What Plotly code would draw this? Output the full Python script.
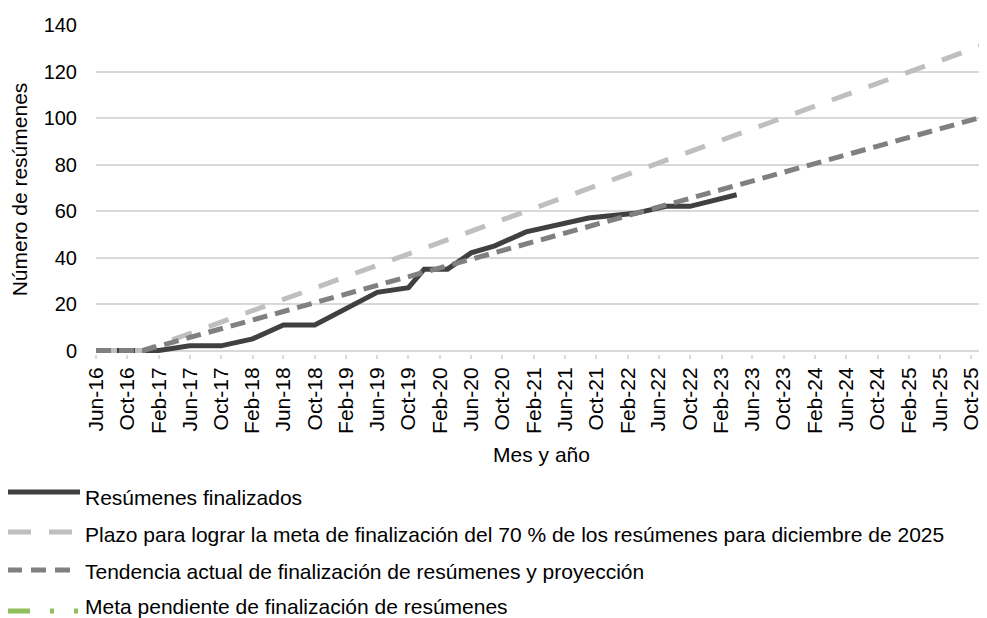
import pandas as pd
import plotly.graph_objects as go

# ---------------- data ----------------
TICK_LABELS = ["Jun-16", "Oct-16", "Feb-17", "Jun-17", "Oct-17", "Feb-18", "Jun-18",
               "Oct-18", "Feb-19", "Jun-19", "Oct-19", "Feb-20", "Jun-20", "Oct-20",
               "Feb-21", "Jun-21", "Oct-21", "Feb-22", "Jun-22", "Oct-22", "Feb-23",
               "Jun-23", "Oct-23", "Feb-24", "Jun-24", "Oct-24", "Feb-25", "Jun-25",
               "Oct-25"]
AXIS_START = "Jun-16"
AXIS_END = "Dec-25"

# Resúmenes finalizados (readings at the line's turning points)
DONE_MONTHS = ["Jun-16", "Feb-17", "Jun-17", "Oct-17", "Feb-18", "Jun-18", "Oct-18",
               "Feb-19", "Jun-19", "Oct-19", "Dec-19", "Mar-20", "Jun-20", "Sep-20",
               "Jan-21", "Sep-21", "Mar-22", "Jul-22", "Oct-22", "Apr-23"]
DONE_VALUES = [0, 0, 2, 2, 5, 11, 11, 18, 25, 27, 35, 35, 42, 45, 51, 57, 59, 62, 62, 67]

# Plazo para lograr la meta del 70 %
GOAL_MONTHS = ["Jun-16", "Dec-16", "Dec-25"]
GOAL_VALUES = [0, 0, 132]

# Tendencia actual y proyección
TREND_MONTHS = ["Jun-16", "Dec-16", "Dec-25"]
TREND_VALUES = [0, 0, 101]

SERIES_NAMES = [
    "Resúmenes finalizados",
    "Plazo para lograr la meta de finalización del 70 % de los resúmenes para diciembre de 2025",
    "Tendencia actual de finalización de resúmenes y proyección",
    "Meta pendiente de finalización de resúmenes",
]
Y_TICKS = [0, 20, 40, 60, 80, 100, 120, 140]

# ---------------- style ----------------
FONT = "Arial, 'Liberation Sans', sans-serif"
C_DONE = "#404040"
C_GOAL = "#BFBFBF"
C_TREND = "#808080"
C_PEND = "#8FC05A"
GRID = "#D9D9D9"
LW = 5

# the page body adds an 8px offset, so the figure is sized/placed accordingly
OFF = 8
W, H = 987 - OFF, 618 - OFF
L, R, T, B = 96 - OFF, 0, 25 - OFF, 618 - 354


def to_date(labels):
    return pd.to_datetime(labels, format="%b-%y")


fig = go.Figure()
fig.add_trace(go.Scatter(x=to_date(DONE_MONTHS), y=DONE_VALUES, mode="lines",
                         name=SERIES_NAMES[0], line=dict(color=C_DONE, width=LW),
                         showlegend=False))
fig.add_trace(go.Scatter(x=to_date(GOAL_MONTHS), y=GOAL_VALUES, mode="lines",
                         name=SERIES_NAMES[1],
                         line=dict(color=C_GOAL, width=LW, dash="21px,18px"),
                         showlegend=False))
fig.add_trace(go.Scatter(x=to_date(TREND_MONTHS), y=TREND_VALUES, mode="lines",
                         name=SERIES_NAMES[2],
                         line=dict(color=C_TREND, width=LW, dash="15px,8px"),
                         showlegend=False))

# ---------------- manual legend ----------------
pw, ph = W - L - R, H - T - B


def px2x(px):
    return (px - OFF - L) / pw


def py2y(py):
    return (H - B - (py - OFF)) / ph


legend_rows = [
    (SERIES_NAMES[0], C_DONE, "solid", 492, 497, 80),
    (SERIES_NAMES[1], C_GOAL, "24px,18px", 532, 534, 72),
    (SERIES_NAMES[2], C_TREND, "15px,9px", 570, 571, 72),
    (SERIES_NAMES[3], C_PEND, "23px,20px,4px,20px,4px", 611, 606, 81),
]
for name, color, dash, ly, ty, xend in legend_rows:
    fig.add_shape(type="line", xref="paper", yref="paper",
                  x0=px2x(7), x1=px2x(xend), y0=py2y(ly), y1=py2y(ly),
                  line=dict(color=color, width=LW, dash=dash))
    fig.add_annotation(text=name, xref="paper", yref="paper",
                       x=px2x(83), y=py2y(ty), xanchor="left", yanchor="middle",
                       showarrow=False, font=dict(family=FONT, size=21, color="#000000"))

fig.update_layout(
    width=W, height=H,
    margin=dict(l=L, r=R, t=T, b=B, pad=0),
    paper_bgcolor="white", plot_bgcolor="white",
    font=dict(family=FONT, size=21, color="#000000"),
    showlegend=False,
)
fig.update_xaxes(
    type="date",
    range=[to_date([AXIS_START])[0], to_date([AXIS_END])[0]],
    tickmode="array", tickvals=to_date(TICK_LABELS), ticktext=TICK_LABELS,
    tickangle=-90, ticks="outside", ticklen=4, tickwidth=1.5, tickcolor=GRID,
    tickfont=dict(size=21),
    showgrid=False, showline=False, zeroline=False,
    title=dict(text="Mes y año", standoff=14, font=dict(size=21)),
    automargin=False,
)
fig.update_yaxes(
    range=[-1.5, 140], tickmode="array", tickvals=Y_TICKS,
    tickfont=dict(size=20),
    showgrid=True, gridcolor=GRID, gridwidth=1.5,
    zeroline=True, zerolinecolor=GRID, zerolinewidth=1.5,
    showline=False, ticks="", ticklabelstandoff=18,
    title=dict(text="Número de resúmenes", standoff=10, font=dict(size=21)),
    automargin=False,
)

fig.write_html("out.html")
